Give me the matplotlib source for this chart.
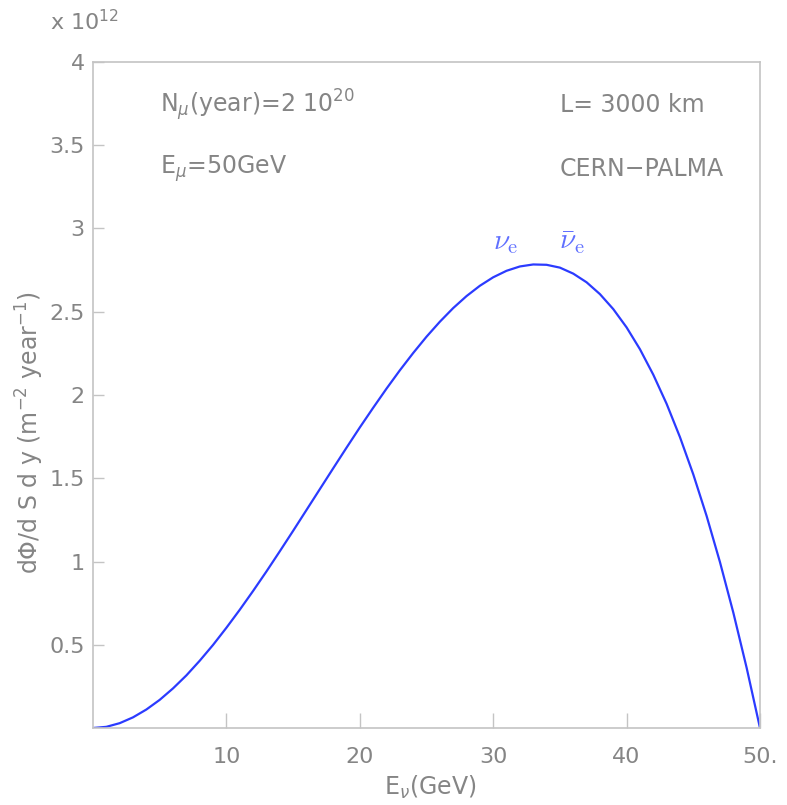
import matplotlib
matplotlib.use("Agg")
import matplotlib.pyplot as plt

# neutrino energy (GeV) and flux (units of 1e12 m^-2 year^-1)
energy = [0, 1, 2, 3, 4, 5, 6, 7, 8, 9, 10, 11, 12, 13, 14, 15, 16, 17, 18, 19,
          20, 21, 22, 23, 24, 25, 26, 27, 28, 29, 30, 31, 32, 33, 34, 35, 36,
          37, 38, 39, 40, 41, 42, 43, 44, 45, 46, 47, 48, 49, 50]
flux = [0.0, 0.007, 0.029, 0.064, 0.111, 0.169, 0.238, 0.316, 0.404, 0.499,
        0.602, 0.710, 0.823, 0.940, 1.061, 1.184, 1.309, 1.434, 1.559, 1.683,
        1.805, 1.923, 2.038, 2.148, 2.252, 2.350, 2.440, 2.522, 2.594, 2.656,
        2.707, 2.746, 2.772, 2.784, 2.782, 2.765, 2.729, 2.677, 2.606, 2.516,
        2.406, 2.275, 2.122, 1.947, 1.747, 1.523, 1.273, 0.996, 0.693, 0.361,
        0.0]

xticks = [10, 20, 30, 40, 50]
xtick_labels = ["10", "20", "30", "40", "50."]
yticks = [0.5, 1, 1.5, 2, 2.5, 3, 3.5, 4]
ytick_labels = ["0.5", "1", "1.5", "2", "2.5", "3", "3.5", "4"]

grey = "#858585"
spine = "#c4c4c4"
blue = "#2b3bff"
light_blue = "#6070ff"

fig = plt.figure(figsize=(7.87, 8.05), dpi=100)
ax = fig.add_axes([93 / 787, 1 - 728 / 805, 667 / 787, 666 / 805])

ax.plot(energy, flux, color=blue, linewidth=1.6)

ax.set_xlim(0, 50)
ax.set_ylim(0, 4)
ax.set_xticks(xticks)
ax.set_xticklabels(xtick_labels)
ax.set_yticks(yticks)
ax.set_yticklabels(ytick_labels)
ax.tick_params(direction="in", width=1, color=spine,
               labelcolor=grey, labelsize=16)
ax.tick_params(axis="x", length=11, pad=14)
ax.tick_params(axis="y", length=8, pad=6)
for s in ax.spines.values():
    s.set_color(spine)
    s.set_linewidth(1.2)

fig.text(50 / 787, 1 - 22 / 805, r"x 10$^{12}$", color=grey, fontsize=16,
         ha="left", va="center")
fig.text(30 / 787, 1 - 433 / 805, r"d$\Phi$/d S d y (m$^{-2}$ year$^{-1}$)",
         color=grey, fontsize=17, rotation=90, ha="center", va="center")
fig.text(430 / 787, 1 - 787 / 805, r"E$_\nu$(GeV)", color=grey, fontsize=17,
         ha="center", va="center")

ax.text(0.10, 0.935, r"N$_\mu$(year)=2 10$^{20}$", transform=ax.transAxes,
        color=grey, fontsize=17, ha="left", va="center")
ax.text(0.10, 0.84, r"E$_\mu$=50GeV", transform=ax.transAxes,
        color=grey, fontsize=17, ha="left", va="center")
ax.text(0.70, 0.935, "L= 3000 km", transform=ax.transAxes,
        color=grey, fontsize=17, ha="left", va="center")
ax.text(0.70, 0.84, "CERN\u2212PALMA", transform=ax.transAxes,
        color=grey, fontsize=17, ha="left", va="center")

ax.text(30.0, 2.92, r"$\nu_{\rm e}$", color=light_blue, fontsize=21,
        math_fontfamily="cm", ha="left", va="center")
ax.text(34.9, 2.92, r"$\bar{\nu}_{\rm e}$", color=light_blue, fontsize=21,
        math_fontfamily="cm", ha="left", va="center")

fig.savefig("out.png", dpi=100)
